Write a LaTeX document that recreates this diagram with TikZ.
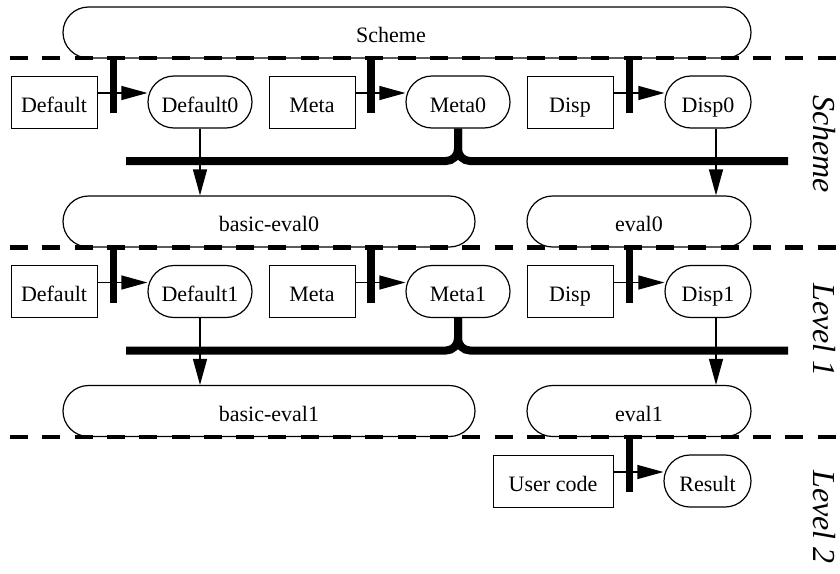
\documentclass[tikz,border=0pt]{standalone}
\usepackage{fontspec}
\setmainfont{Liberation Serif}
\usetikzlibrary{shapes.misc,arrows.meta}
\begin{document}
\begin{tikzpicture}[x=1pt,y=-1pt,
  lbl/.style={font=\fontsize{22}{26}\selectfont, text height=20pt, text depth=0pt, inner sep=0pt},
  srcbox/.style={lbl, draw, line width=1pt, minimum height=52pt},
  valnode/.style={lbl, draw, rounded rectangle, line width=1.2pt, minimum height=52pt},
  evalnode/.style={lbl, draw, rounded rectangle, line width=1.2pt, minimum height=51pt},
  arr/.style={line width=1.3pt, -{Triangle[length=26pt,width=14pt]}},
  vbar/.style={line width=7.5pt},
  hbar/.style={line width=8pt, rounded corners=12pt},
  sep/.style={line width=4.5pt, dash pattern=on 18pt off 14.3pt},
  side/.style={rotate=-90, anchor=base, inner sep=0pt, font=\fontsize{32}{38}\selectfont\itshape}]
\useasboundingbox (0,0) rectangle (840,573);

% ---------- layer 0 (Scheme) ----------
\node[evalnode, minimum width=688pt] (scheme) at (407,32.5) {Scheme\hspace*{32pt}};
\node[srcbox, minimum width=86pt] (def0) at (54,102) {Default};
\node[valnode, minimum width=104pt] (dv0) at (200,102) {Default0};
\node[srcbox, minimum width=86pt] (meta0) at (312,102) {Meta};
\node[valnode, minimum width=104pt] (mv0) at (458,102) {Meta0};
\node[srcbox, minimum width=86pt] (disp0) at (570,102) {Disp};
\node[valnode, minimum width=86pt] (pv0) at (708,102) {Disp0};
\node[evalnode, minimum width=412pt] (be0) at (269,221.5) {basic-eval0};
\node[evalnode, minimum width=224pt] (ev0) at (639,221.5) {eval0};

\draw[vbar] (113.5,58) -- (113.5,113);
\draw[vbar] (371,58) -- (371,113);
\draw[vbar] (629.5,58) -- (629.5,113);
\draw[arr] ([yshift=9pt]def0.east) -- ([yshift=9pt]dv0.west);
\draw[arr] ([yshift=9pt]meta0.east) -- ([yshift=9pt]mv0.west);
\draw[arr] ([yshift=9pt]disp0.east) -- ([yshift=9pt]pv0.west);
\coordinate (j0) at (mv0.south |- 0,161);
\draw[hbar] (126,161) -- (j0) -- (mv0.south);
\draw[hbar] (788,161) -- (j0) -- (mv0.south);
\draw[arr] (dv0.south) -- (dv0.south |- be0.north);
\draw[arr] ([xshift=8pt]pv0.south) -- ([xshift=8pt]pv0.south |- ev0.north);

% ---------- layer 1 ----------
\node[srcbox, minimum width=86pt] (def1) at (54,291.5) {Default};
\node[valnode, minimum width=104pt] (dv1) at (200,291.5) {Default1};
\node[srcbox, minimum width=86pt] (meta1) at (312,291.5) {Meta};
\node[valnode, minimum width=104pt] (mv1) at (458,291.5) {Meta1};
\node[srcbox, minimum width=86pt] (disp1) at (570,291.5) {Disp};
\node[valnode, minimum width=86pt] (pv1) at (708,291.5) {Disp1};
\node[evalnode, minimum width=412pt] (be1) at (269,411) {basic-eval1};
\node[evalnode, minimum width=224pt] (ev1) at (639,411) {eval1};

\draw[vbar] (113.5,247.5) -- (113.5,302.5);
\draw[vbar] (371,247.5) -- (371,302.5);
\draw[vbar] (629.5,247.5) -- (629.5,302.5);
\draw[arr] ([yshift=9pt]def1.east) -- ([yshift=9pt]dv1.west);
\draw[arr] ([yshift=9pt]meta1.east) -- ([yshift=9pt]mv1.west);
\draw[arr] ([yshift=9pt]disp1.east) -- ([yshift=9pt]pv1.west);
\coordinate (j1) at (mv1.south |- 0,350.5);
\draw[hbar] (126,350.5) -- (j1) -- (mv1.south);
\draw[hbar] (788,350.5) -- (j1) -- (mv1.south);
\draw[arr] (dv1.south) -- (dv1.south |- be1.north);
\draw[arr] ([xshift=8pt]pv1.south) -- ([xshift=8pt]pv1.south |- ev1.north);

% ---------- layer 2 ----------
\node[srcbox, minimum width=120pt] (user) at (553,481) {User code};
\node[valnode, minimum width=87pt] (res) at (707.5,481) {Result};
\draw[vbar] (629.5,437) -- (629.5,492);
\draw[arr] ([yshift=9pt]user.east) -- ([yshift=9pt]res.west);

% ---------- level separators ----------
\draw[sep] (10,58) -- (840,58);
\draw[sep] (10,247.5) -- (840,247.5);
\draw[sep] (10,437) -- (840,437);

\node[side] (lab0) at (813,144) {Scheme};
\node[side] (lab1) at (813,330) {Level 1};
\node[side] (lab2) at (813,517) {Level 2};
\end{tikzpicture}
\end{document}
